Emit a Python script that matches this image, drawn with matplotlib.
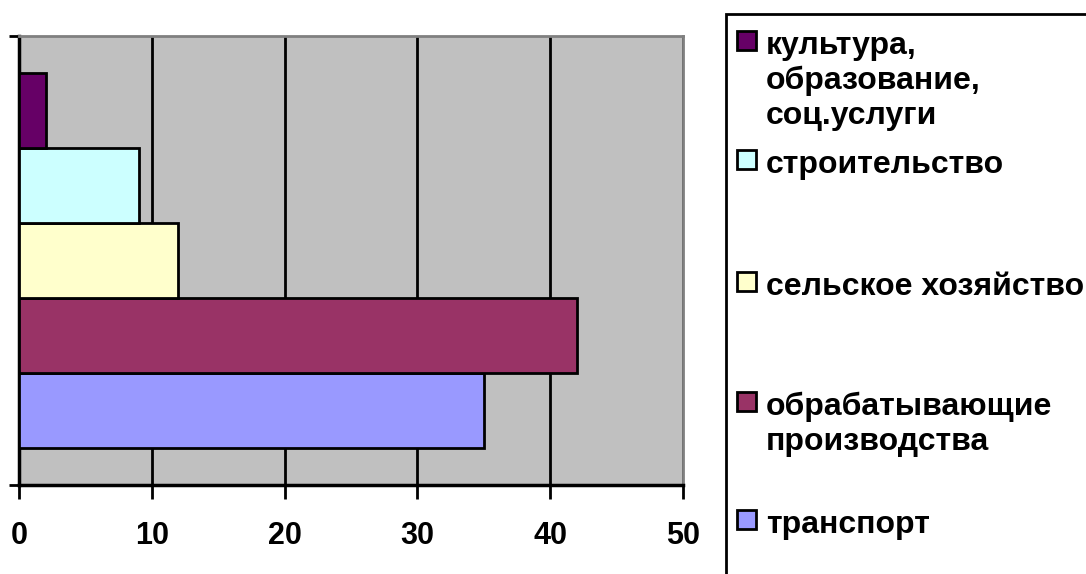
import matplotlib
matplotlib.use("Agg")
import matplotlib.pyplot as plt
from matplotlib.patches import Rectangle

plt.rcParams['font.family'] = ['Liberation Sans', 'DejaVu Sans']
plt.rcParams['font.weight'] = 'bold'

categories = ["транспорт", "обрабатывающие\nпроизводства", "сельское хозяйство",
              "строительство", "культура,\nобразование,\nсоц.услуги"]
values = [35, 42, 12, 9, 2]
colors = ["#9999FF", "#993366", "#FFFFCC", "#CCFFFF", "#660066"]
xticks = [0, 10, 20, 30, 40, 50]

W, H = 1086, 574
fig = plt.figure(figsize=(W / 100, H / 100), dpi=100)

def fx(px):
    return px / W

def fy(py):
    return 1 - py / H

left, right, top, bottom = 19, 683, 36, 485
ax = fig.add_axes([fx(left), fy(bottom), fx(right - left), (bottom - top) / H])
ax.set_facecolor("#C0C0C0")

pos = list(range(len(values)))
ax.barh(pos, values, height=1.0, color=colors, edgecolor="black", linewidth=2, zorder=3)

ax.set_xlim(0, 50)
m = 0.487
ax.set_ylim(-0.5 - m, len(values) - 0.5 + m)
ax.set_xticks(xticks)
ax.set_xticklabels([str(t) for t in xticks], fontsize=22, fontweight='bold')
ax.set_yticks([-0.5 - m, len(values) - 0.5 + m])
ax.set_yticklabels([])
ax.tick_params(axis='x', direction='out', length=10, width=2, pad=16, colors='black')
ax.tick_params(axis='y', direction='out', length=7, width=2)
ax.grid(axis='x', color='black', linewidth=2, zorder=1)
for s in ['left', 'bottom']:
    ax.spines[s].set_linewidth(2.5)
    ax.spines[s].set_color('black')
for s in ['top', 'right']:
    ax.spines[s].set_linewidth(2)
    ax.spines[s].set_color('#808080')

# legend box
fig.patches.append(Rectangle((fx(726), fy(600)), fx(400), (600 - 14) / H,
                             transform=fig.transFigure, facecolor='white',
                             edgecolor='black', linewidth=2, zorder=0))

# baseline of first line of each legend entry (pixels from top)
legend_base = [533, 415, 295, 173, 54]
line_step = 35
for i in range(len(values)):
    b = legend_base[i]
    sq_c = b - 14
    fig.patches.append(Rectangle((fx(737), fy(sq_c + 9.5)), fx(19), 19 / H,
                                 transform=fig.transFigure, facecolor=colors[i],
                                 edgecolor='black', linewidth=2, zorder=2))
    for j, line in enumerate(categories[i].split("\n")):
        fig.text(fx(766), fy(b + j * line_step), line, fontsize=23,
                 fontweight='bold', va='baseline', ha='left')

fig.savefig("out.png", dpi=100)
